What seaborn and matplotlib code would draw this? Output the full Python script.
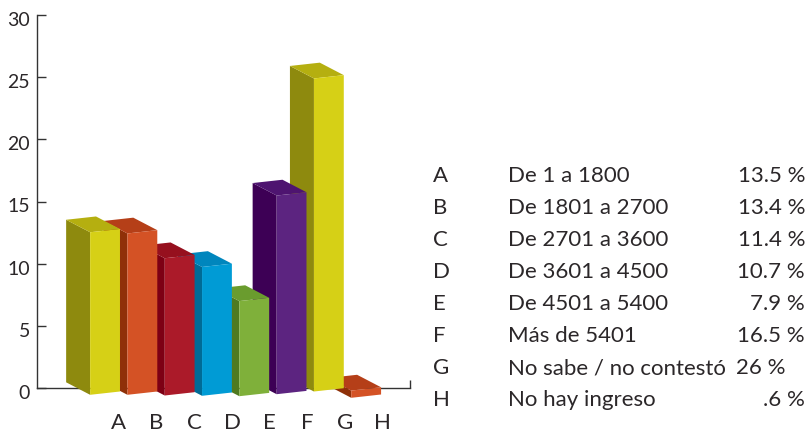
import matplotlib
matplotlib.use('Agg')
from matplotlib import pyplot as plt
from matplotlib.patches import Polygon
from matplotlib.transforms import Affine2D, ScaledTranslation
import pandas as pd
import seaborn as sns

letters = ['A', 'B', 'C', 'D', 'E', 'F', 'G', 'H']
ranges = ['De 1 a 1800', 'De 1801 a 2700', 'De 2701 a 3600', 'De 3601 a 4500',
          'De 4501 a 5400', 'Más de 5401', 'No sabe / no contestó', 'No hay ingreso']
values = [13.5, 13.4, 11.4, 10.7, 7.9, 16.5, 26, 0.6]
value_labels = ['13.5 %', '13.4 %', '11.4 %', '10.7 %', '7.9 %', '16.5 %', '26 %', '.6 %']

front_colors = ['#D6D016', '#D45225', '#AB1A29', '#009BD5', '#7FB03A', '#5C2480', '#D6D016', '#D45225']
side_colors = ['#8E8A0E', '#8F3008', '#7D0014', '#006B96', '#4F7A20', '#3D0055', '#8E8A0E', '#8F3008']
top_colors = ['#B5AF10', '#B53F18', '#96101E', '#0086BD', '#6A9C2E', '#4E1470', '#B5AF10', '#B53F18']

# the bars do not sit on one line in the original, pixels below the bar axes baseline
base_drop = [-0.7, -0.7, 0, 0.3, 0.7, -1.3, -4, 2.3]

W, H = 807, 431
TEXT = '#2b2729'
SIZE = 16

sns.set_theme(style='white')
plt.rcParams['font.family'] = ['Lato', 'DejaVu Sans']

fig = plt.figure(figsize=(W / 100, H / 100), dpi=100)


def axes_from_pixels(left, right, top, bottom):
    return fig.add_axes([left / W, 1 - bottom / H, (right - left) / W, (bottom - top) / H])


# Axis frame, ticks and labels
ax = axes_from_pixels(37, 410, 16, 389)
ax.set_xlim(-2.175, 7.72)
ax.set_ylim(0, 30)
ax.set_yticks(range(0, 31, 5))
ax.set_xticks(range(8))
ax.set_xticklabels(letters)
ax.set_xticks([7.72], minor=True)
ax.tick_params(axis='y', direction='in', length=6.5, width=1, color='#333333', pad=5,
               labelsize=SIZE - 2, labelcolor=TEXT, left=True)
ax.tick_params(axis='x', which='major', length=0, pad=17, labelsize=SIZE, labelcolor=TEXT)
ax.tick_params(axis='x', which='minor', direction='in', length=6, width=1, color='#333333', bottom=True)
sns.despine(ax=ax)
for side in ['left', 'bottom']:
    ax.spines[side].set_color('#333333')
    ax.spines[side].set_linewidth(1)

# old style numerals in the original hang lower than these
nudge = ScaledTranslation(0, -3 / 100, fig.dpi_scale_trans)
for label in ax.get_yticklabels():
    label.set_transform(label.get_transform() + nudge)

# Bars get their own axes, drawn lower and a little tighter than the scale on the left
baseline = 396.5
ax_bars = axes_from_pixels(37 - 14, 410 - 14, baseline - 30 * 12.04, baseline)
ax_bars.patch.set_alpha(0)
df = pd.DataFrame({'letter': letters, 'value': values})
sns.barplot(data=df, x='letter', y='value', hue='letter', palette=front_colors, legend=False,
            width=0.8, saturation=1, ax=ax_bars)
ax_bars.set_xlim(-2.2, 7.8)
ax_bars.set_ylim(0, 30)
ax_bars.axis('off')

# Fake the 3D look: shear the front faces, add side and top faces
px_x = 10 / 373
px_y = 1 / 12.04
depth_x = -24 * px_x
depth_y = 12.5 * px_y
rise = 3.3 * px_y

bars = sorted(ax_bars.patches, key=lambda b: b.get_x())
for i, bar in enumerate(bars):
    x0 = bar.get_x()
    x1 = x0 + bar.get_width()
    h = bar.get_height()
    shift = -base_drop[i] * px_y
    slope = rise / (x1 - x0)
    shear = Affine2D.from_values(1, slope, 0, 1, 0, shift - slope * x0)
    bar.set_transform(shear + ax_bars.transData)
    bar.set_edgecolor('none')
    bar.set_clip_on(False)
    # left bars stand in front of right ones
    order = 20 - i
    bar.set_zorder(order + 0.2)
    side = [(x0, shift), (x0 + depth_x, shift + depth_y),
            (x0 + depth_x, shift + h + depth_y), (x0, shift + h)]
    top = [(x0, shift + h), (x0 + depth_x, shift + h + depth_y),
           (x1 + depth_x, shift + h + rise + depth_y), (x1, shift + h + rise)]
    ax_bars.add_patch(Polygon(side, closed=True, facecolor=side_colors[i], edgecolor='none',
                              clip_on=False, zorder=order))
    ax_bars.add_patch(Polygon(top, closed=True, facecolor=top_colors[i], edgecolor='none',
                              clip_on=False, zorder=order + 0.1))

# Table on the right
row_y = [176.5 + 32 * i for i in range(8)]
for i in range(8):
    y = 1 - row_y[i] / H
    fig.text(433 / W, y, letters[i], fontsize=SIZE, color=TEXT, va='center')
    fig.text(508 / W, y, ranges[i], fontsize=SIZE, color=TEXT, va='center')
    right = 786 if letters[i] == 'G' else 805
    fig.text(right / W, y, value_labels[i], fontsize=SIZE, color=TEXT, va='center', ha='right')

fig.savefig('out.png', dpi=100)
